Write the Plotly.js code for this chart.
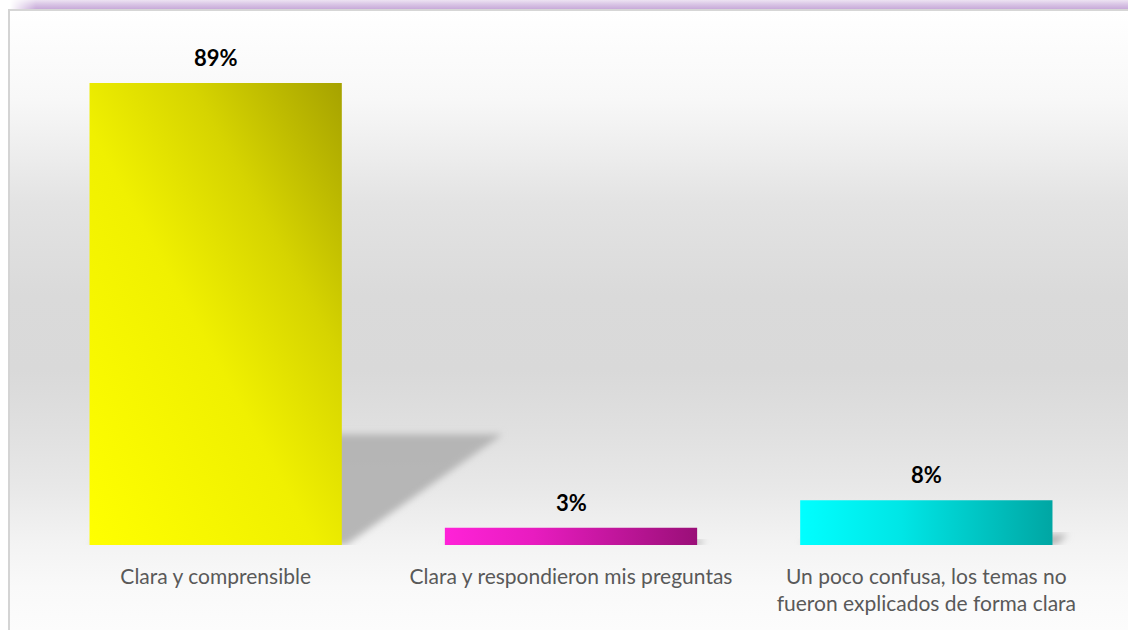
<!DOCTYPE html>
<html>
<head>
<meta charset="utf-8">
<script src="https://cdn.plot.ly/plotly-3.0.1.min.js"></script>
<style>
  html, body { margin: 0; padding: 0; background: #ffffff; }
  #wrap { position: relative; width: 1128px; height: 630px; overflow: hidden; background: #ffffff; }
  #band { position: absolute; left: 10px; top: 0; width: 1118px; height: 9px;
          background: linear-gradient(to bottom, #ede3f2 0%, #dac7e6 45%, #c8aad9 100%);
          -webkit-mask-image: linear-gradient(to right, rgba(0,0,0,0) 0px, #000 26px);
          mask-image: linear-gradient(to right, rgba(0,0,0,0) 0px, #000 26px); }
  #topline { position: absolute; left: 8px; top: 9px; width: 1120px; height: 2px; background: #d6d6d6; }
  #leftline { position: absolute; left: 8px; top: 9px; width: 2px; height: 621px; background: #d4d4d4; }
  #panel { position: absolute; left: 10px; top: 11px; width: 1118px; height: 619px;
           background: linear-gradient(to bottom, #ffffff 0%, #fdfdfd 4%, #f8f8f8 14%, #ececec 24%, #e3e3e3 31%,
           #dadada 46%, #d9d9d9 58%, #e0e0e0 68%, #e8e8e8 77%, #f3f3f3 86%, #f9f9f9 93%, #fcfcfc 100%); }
  #chart { position: absolute; left: 0; top: 0; width: 1128px; height: 630px; }
</style>
</head>
<body>
<div id="wrap">
  <div id="panel"></div>
  <div id="band"></div>
  <div id="topline"></div>
  <div id="leftline"></div>
  <div id="chart"></div>
</div>
<script>
const categories = [
  'Clara y comprensible',
  'Clara y respondieron mis preguntas',
  'Un poco confusa, los temas no<br>fueron explicados de forma clara'
];
const values = [89, 3.3, 8.6];
const valueLabels = ['89%', '3%', '8%'];
const baseColors = ['#e6e600', '#e01cc0', '#00d8d8'];

const gradients = [
  { id: 'gYellow', x1: 0, y1: 1, x2: 1, y2: 0,
    stops: [[0, '#ffff00'], [0.45, '#f0f000'], [0.7, '#d6d400'], [1, '#a6a200']] },
  { id: 'gMagenta', x1: 0, y1: 0, x2: 1, y2: 0,
    stops: [[0, '#ff22d8'], [0.35, '#e81cc0'], [1, '#9a0f78']] },
  { id: 'gCyan', x1: 0, y1: 0, x2: 1, y2: 0,
    stops: [[0, '#00ffff'], [0.4, '#00e6e6'], [1, '#00a6a3']] }
];

const trace = {
  type: 'bar',
  x: categories,
  y: values,
  width: 0.71,
  marker: { color: baseColors, line: { width: 0 } },
  hoverinfo: 'none'
};

const annotations = categories.map((c, i) => ({
  x: c, y: values[i], xref: 'x', yref: 'y',
  text: '<b>' + valueLabels[i] + '</b>',
  showarrow: false, yanchor: 'bottom', yshift: 10,
  font: { family: 'Lato, "Open Sans", sans-serif', size: 22, color: '#000000' }
}));

const layout = {
  width: 1128, height: 630,
  margin: { l: 38, r: 24, t: 26, b: 85 },
  paper_bgcolor: 'rgba(0,0,0,0)',
  plot_bgcolor: 'rgba(0,0,0,0)',
  showlegend: false,
  xaxis: {
    showgrid: false, zeroline: false, showline: false, ticks: '',
    tickfont: { family: 'Lato, "Open Sans", sans-serif', size: 21, color: '#595959' },
    ticklabelstandoff: 17
  },
  yaxis: { range: [0, 100], visible: false, showgrid: false, zeroline: false },
  annotations: annotations,
  bargap: 0.29
};

Plotly.newPlot('chart', [trace], layout, { displayModeBar: false, staticPlot: true }).then(gd => {
  const NS = 'http://www.w3.org/2000/svg';
  const svg = gd.querySelector('svg.main-svg');
  let defs = svg.querySelector('defs');
  if (!defs) { defs = document.createElementNS(NS, 'defs'); svg.insertBefore(defs, svg.firstChild); }
  gradients.forEach(g => {
    const lg = document.createElementNS(NS, 'linearGradient');
    lg.setAttribute('id', g.id);
    lg.setAttribute('x1', g.x1); lg.setAttribute('y1', g.y1);
    lg.setAttribute('x2', g.x2); lg.setAttribute('y2', g.y2);
    g.stops.forEach(s => {
      const st = document.createElementNS(NS, 'stop');
      st.setAttribute('offset', s[0]);
      st.setAttribute('stop-color', s[1]);
      lg.appendChild(st);
    });
    defs.appendChild(lg);
  });
  const filt = document.createElementNS(NS, 'filter');
  filt.setAttribute('id', 'shBlur');
  filt.setAttribute('x', '-20%'); filt.setAttribute('y', '-20%');
  filt.setAttribute('width', '140%'); filt.setAttribute('height', '140%');
  const fe = document.createElementNS(NS, 'feGaussianBlur');
  fe.setAttribute('stdDeviation', '3.5');
  filt.appendChild(fe);
  defs.appendChild(filt);

  const paths = gd.querySelectorAll('.barlayer .trace .point path');
  paths.forEach((p, i) => {
    const bb = p.getBBox();
    const x0 = bb.x, x1 = bb.x + bb.width, yTop = bb.y, yBot = bb.y + bb.height;
    const sh = Math.max(0.24 * bb.height, 5);
    const dx = 1.45 * sh;
    const poly = document.createElementNS(NS, 'polygon');
    poly.setAttribute('points',
      [[x0, yBot], [x1 + 4, yBot], [x1 + dx, yBot - sh], [x0 + dx, yBot - sh]].map(q => q.join(',')).join(' '));
    poly.setAttribute('fill', '#b3b3b3');
    poly.setAttribute('fill-opacity', '0.95');
    poly.setAttribute('filter', 'url(#shBlur)');
    p.parentNode.insertBefore(poly, p);
    p.style.fill = 'url(#' + gradients[i].id + ')';
  });
});
</script>
</body>
</html>
